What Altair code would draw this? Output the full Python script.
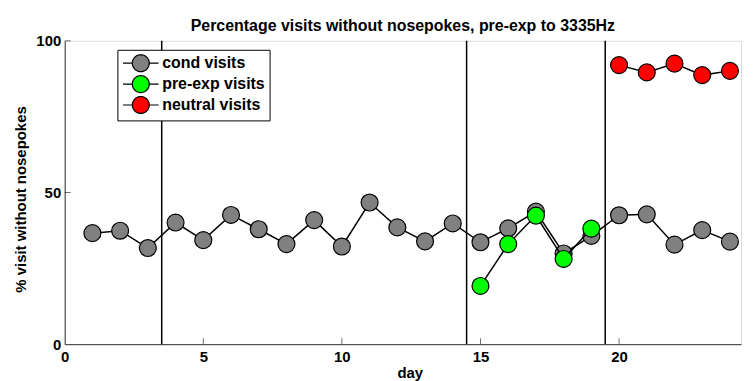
import math
import altair as alt
import pandas as pd

# ---- data ----
days_cond = list(range(1, 25))
cond_visits = [36.6, 37.4, 31.7, 40.1, 34.3, 42.6, 37.9, 33.0, 40.9, 32.2, 46.7, 38.5,
               33.9, 39.8, 33.6, 38.2, 43.7, 29.9, 35.7, 42.5, 42.8, 32.8, 37.6, 33.8]
days_preexp = [15, 16, 17, 18, 19]
preexp_visits = [19.2, 33.0, 42.4, 28.1, 38.1]
days_neutral = [20, 21, 22, 23, 24]
neutral_visits = [92.0, 89.6, 92.5, 88.7, 90.1]

series_names = ["cond visits", "pre-exp visits", "neutral visits"]
series_colors = ["#808080", "#00ff00", "#ff0000"]
boundaries = [3.5, 14.5, 19.5]
x_ticks = [0, 5, 10, 15, 20]
y_ticks = [0, 50, 100]

FONT = "Liberation Sans"

rows = []
for d, v in zip(days_cond, cond_visits):
    rows.append({"day": d, "value": v, "series": series_names[0]})
for d, v in zip(days_preexp, preexp_visits):
    rows.append({"day": d, "value": v, "series": series_names[1]})
for d, v in zip(days_neutral, neutral_visits):
    rows.append({"day": d, "value": v, "series": series_names[2]})
df = pd.DataFrame(rows)

x_scale = alt.Scale(domain=[0, 24.4], nice=False, zero=False)
y_scale = alt.Scale(domain=[0, 100], nice=False)

x_axis = alt.Axis(values=x_ticks, tickSize=0, labelFontSize=15, labelFontWeight="bold",
                  labelFont=FONT, labelColor="black", title="day", titleFont=FONT,
                  titleFontSize=15, titleFontWeight="bold", titleColor="black",
                  domainColor="#333333", domainWidth=1, grid=False, labelPadding=5,
                  titlePadding=1, titleX=347, labelFlush=False)
y_axis = alt.Axis(values=y_ticks, tickSize=0, labelFontSize=15, labelFontWeight="bold",
                  labelFont=FONT, labelColor="black", title="% visit without nosepokes",
                  titleFont=FONT, titleFontSize=15, titleFontWeight="bold",
                  titleColor="black", domainColor="#333333", domainWidth=1, grid=False,
                  labelPadding=4, titlePadding=7, titleY=159, labelFlush=False)


def X(field="day"):
    return alt.X(f"{field}:Q", scale=x_scale, axis=x_axis, title="day")


def Y(field="value"):
    return alt.Y(f"{field}:Q", scale=y_scale, axis=y_axis, title="% visit without nosepokes")


# legend glyph: marker circle with a short line through it (polygonal circle for tight bounds)
n_seg = 36
circle_pts = [(math.cos(2 * math.pi * k / n_seg), math.sin(2 * math.pi * k / n_seg))
              for k in range(n_seg)]
legend_symbol = "M-2.1,0H-1M1,0H2.1M" + "L".join(f"{px:.3f},{py:.3f}" for px, py in circle_pts) + "Z"

fill_enc = alt.Fill(
    "series:N",
    scale=alt.Scale(domain=series_names, range=series_colors),
    legend=alt.Legend(title=None, orient="none", legendX=53, legendY=9,
                      symbolType=legend_symbol, symbolSize=290,
                      symbolStrokeColor="black", symbolStrokeWidth=1.2,
                      symbolOpacity=1, symbolOffset=10, labelFont=FONT, labelFontSize=16,
                      labelFontWeight="bold", labelColor="black",
                      strokeColor="black", fillColor="white", padding=4,
                      rowPadding=-2, labelOffset=12),
)

rules = alt.Chart(pd.DataFrame({"day": boundaries})).mark_rule(
    color="black", strokeWidth=1.5
).encode(x=X(), y=alt.datum(0), y2=alt.datum(100))

layers = [rules]
for name in series_names:
    sub = alt.Chart(df).transform_filter(alt.datum.series == name)
    layers.append(sub.mark_line(color="black", strokeWidth=1.5).encode(x=X(), y=Y()))
    layers.append(sub.mark_circle(size=290, opacity=1, stroke="black", strokeWidth=1.2)
                  .encode(x=X(), y=Y(), fill=fill_enc))

xt = alt.Chart(pd.DataFrame({"day": x_ticks[1:]})).mark_tick(
    orient="vertical", size=6, thickness=1, color="#333333", yOffset=-3
).encode(x=X(), y=alt.datum(0))
yt = alt.Chart(pd.DataFrame({"value": y_ticks[1:]})).mark_tick(
    orient="horizontal", size=6, thickness=1, color="#333333", xOffset=3
).encode(y=Y(), x=alt.datum(0))
layers += [xt, yt]

chart = alt.layer(*layers).properties(
    width=680, height=305,
    title=alt.Title("Percentage visits without nosepokes, pre-exp to 3335Hz",
                    font=FONT, fontSize=16, fontWeight="bold", color="black",
                    anchor="middle", offset=0),
    padding={"left": 5, "top": 9, "right": 5, "bottom": 0},
).configure_view(stroke=None).configure(background="white")

chart.save("out.html", embed_options={"renderer": "svg", "actions": False})
